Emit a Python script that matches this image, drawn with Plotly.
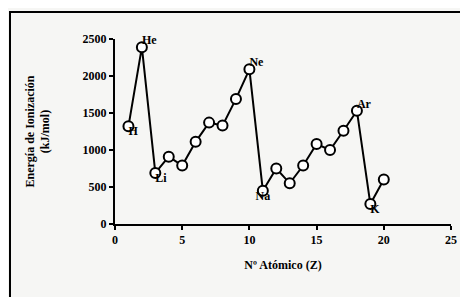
import plotly.graph_objects as go

z = list(range(1, 21))
energy = [1320, 2390, 690, 910, 790, 1110, 1370, 1330, 1690, 2090,
          450, 750, 550, 790, 1080, 1000, 1260, 1530, 270, 600]
label_z = [1, 2, 3, 10, 11, 18, 19]
label_txt = ["<b>H</b>", "<b>He</b>", "<b>Li</b>", "<b>Ne</b>", "<b>Na</b>", "<b>Ar</b>", "<b>K</b>"]
label_pos = ["bottom right", "top right", "bottom right", "top right",
             "bottom center", "top right", "bottom right"]
x_ticks = [0, 5, 10, 15, 20, 25]
y_ticks = [0, 500, 1000, 1500, 2000, 2500]

FONT = "Liberation Serif"

fig = go.Figure()
fig.add_trace(go.Scatter(
    x=z, y=energy, mode="lines+markers",
    line=dict(color="black", width=2),
    marker=dict(symbol="circle", size=10, color="white",
                line=dict(color="black", width=2)),
    cliponaxis=False, showlegend=False,
))
fig.add_trace(go.Scatter(
    x=label_z, y=[energy[i - 1] for i in label_z], mode="text",
    text=label_txt, textposition=label_pos,
    textfont=dict(family=FONT, size=12, color="black"),
    cliponaxis=False, showlegend=False,
))

fig.update_layout(
    width=460, height=289,
    margin=dict(l=107, r=17, t=31, b=73),
    paper_bgcolor="#f6f6f4", plot_bgcolor="rgba(0,0,0,0)",
    font=dict(family=FONT, color="black"),
    xaxis=dict(range=[0, 25], tickvals=x_ticks, showgrid=False, zeroline=False,
               showline=True, linecolor="black", linewidth=2,
               ticks="outside", ticklen=4, tickwidth=2, tickcolor="black",
               tickfont=dict(family=FONT, size=12, color="black", weight="bold"),
               title=dict(text="<b>Nº Atómico (Z)</b>", font=dict(size=12), standoff=14)),
    yaxis=dict(range=[0, 2500], tickvals=y_ticks, showgrid=False, zeroline=False,
               showline=True, linecolor="black", linewidth=2,
               ticks="outside", ticklen=4, tickwidth=2, tickcolor="black",
               tickfont=dict(family=FONT, size=12, color="black", weight="bold"),
               title=dict(text="<b>Energía de Ionización<br>(kJ/mol)</b>",
                          font=dict(size=12), standoff=30)),
    shapes=[dict(type="rect", xref="paper", yref="paper", layer="below",
                 x0=-0.3125, x1=1.045, y0=-0.45, y1=1.146,
                 line=dict(color="black", width=2))],
)

fig.write_html("out.html")
